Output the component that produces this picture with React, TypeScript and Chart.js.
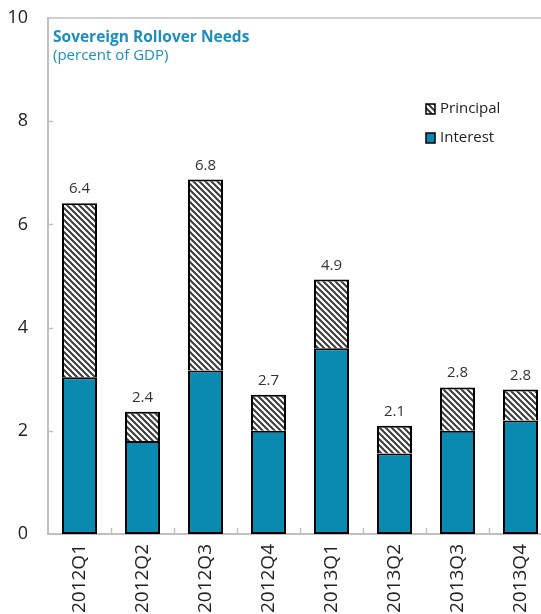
import React, { useEffect, useRef } from "react";
import { Chart, registerables } from "chart.js";

Chart.register(...registerables);

const categories = ["2012Q1", "2012Q2", "2012Q3", "2012Q4", "2013Q1", "2013Q2", "2013Q3", "2013Q4"];
const interest = [3.04, 1.8, 3.17, 2.0, 3.6, 1.56, 2.0, 2.2];
const principal = [3.37, 0.57, 3.7, 0.7, 1.33, 0.54, 0.84, 0.6];
const totalLabels = ["6.4", "2.4", "6.8", "2.7", "4.9", "2.1", "2.8", "2.8"];
const yTicks = [0, 2, 4, 6, 8, 10];

const FONT = "'Open Sans', 'DejaVu Sans', sans-serif";
const TEAL = "#0a8ab0";
const AXIS = "#c0c0c0";

function makeHatch(): CanvasPattern | string {
  const c = document.createElement("canvas");
  c.width = 6;
  c.height = 6;
  const g = c.getContext("2d");
  if (!g) return "#999";
  g.fillStyle = "#ffffff";
  g.fillRect(0, 0, 6, 6);
  g.strokeStyle = "#3a3a3a";
  g.lineWidth = 2;
  for (const o of [-6, 0, 6]) {
    g.beginPath();
    g.moveTo(o - 1, -1);
    g.lineTo(o + 7, 7);
    g.stroke();
  }
  const p = g.createPattern(c, "repeat");
  return p || "#999";
}

export default function App() {
  const ref = useRef<HTMLCanvasElement | null>(null);

  useEffect(() => {
    if (!ref.current) return;
    const hatch = makeHatch();

    const decor = {
      id: "decor",
      afterDraw(chart: any) {
        const ctx = chart.ctx;
        const { left, right, top, bottom } = chart.chartArea;
        const xs = chart.scales.x;
        const ys = chart.scales.y;
        ctx.save();
        // top frame line
        ctx.strokeStyle = AXIS;
        ctx.lineWidth = 1.5;
        ctx.beginPath();
        ctx.moveTo(left, top);
        ctx.lineTo(right, top);
        ctx.stroke();
        // inside y ticks
        ctx.lineWidth = 1.5;
        yTicks.forEach((v) => {
          if (v === 0 || v === 10) return;
          const y = Math.round(ys.getPixelForValue(v)) + 0.5;
          ctx.beginPath();
          ctx.moveTo(left, y);
          ctx.lineTo(left + 5, y);
          ctx.stroke();
        });
        // inside x ticks between categories
        for (let i = 1; i < categories.length; i++) {
          const x = Math.round((xs.getPixelForValue(i - 1) + xs.getPixelForValue(i)) / 2) + 0.5;
          ctx.beginPath();
          ctx.moveTo(x, bottom);
          ctx.lineTo(x, bottom - 6);
          ctx.stroke();
        }
        // total labels
        ctx.fillStyle = "#333333";
        ctx.font = `15px ${FONT}`;
        ctx.textAlign = "center";
        ctx.textBaseline = "alphabetic";
        categories.forEach((_, i) => {
          const total = interest[i] + principal[i];
          const x = xs.getPixelForValue(i);
          const y = ys.getPixelForValue(total);
          ctx.fillText(totalLabels[i], x, y - 10);
        });
        // title
        ctx.textAlign = "left";
        ctx.fillStyle = "#1a8fbf";
        ctx.font = `bold 15.5px ${FONT}`;
        ctx.fillText("Sovereign Rollover Needs", 53, 42);
        ctx.font = `15px ${FONT}`;
        ctx.fillText("(percent of GDP)", 53, 60);
        // legend
        const items = [
          { label: "Principal", fill: chart.data.datasets[1].backgroundColor, y: 104 },
          { label: "Interest", fill: chart.data.datasets[0].backgroundColor, y: 133 },
        ];
        items.forEach((it) => {
          ctx.fillStyle = it.fill;
          ctx.fillRect(426, it.y, 9, 10);
          ctx.strokeStyle = "#000";
          ctx.lineWidth = 1.5;
          ctx.strokeRect(426, it.y, 9, 10);
          ctx.fillStyle = "#222";
          ctx.font = `15px ${FONT}`;
          ctx.textBaseline = "middle";
          ctx.fillText(it.label, 440, it.y + 5);
        });
        ctx.restore();
      },
    };

    const chart = new Chart(ref.current, {
      type: "bar",
      data: {
        labels: categories,
        datasets: [
          {
            label: "Interest",
            data: interest,
            backgroundColor: TEAL,
            borderColor: "#000",
            borderWidth: 2,
            borderSkipped: false,
            barPercentage: 0.556,
            categoryPercentage: 1,
          },
          {
            label: "Principal",
            data: principal,
            backgroundColor: hatch as any,
            borderColor: "#000",
            borderWidth: 2,
            borderSkipped: "bottom",
            barPercentage: 0.556,
            categoryPercentage: 1,
          },
        ],
      },
      options: {
        responsive: false,
        animation: false,
        devicePixelRatio: 1,
        layout: { padding: { top: 18, left: 0, right: 0, bottom: 0 } },
        plugins: {
          legend: { display: false },
          tooltip: { enabled: false },
          title: { display: false },
        },
        scales: {
          x: {
            stacked: true,
            grid: { display: false, drawTicks: false },
            border: { display: true, color: AXIS, width: 2 },
            ticks: {
              minRotation: 90,
              maxRotation: 90,
              padding: 10,
              color: "#222",
              font: { family: FONT, size: 19 },
            },
            afterFit(scale: any) {
              scale.height = 80;
              scale.paddingLeft = 0;
              scale.paddingRight = 0;
            },
          },
          y: {
            stacked: true,
            min: 0,
            max: 10,
            afterBuildTicks(scale: any) {
              scale.ticks = yTicks.map((v) => ({ value: v }));
            },
            grid: { display: false, drawTicks: false },
            border: { display: true, color: AXIS, width: 2 },
            ticks: {
              padding: 20,
              color: "#222",
              font: { family: FONT, size: 18 },
            },
            afterFit(scale: any) {
              scale.width = 48;
              scale.paddingTop = 0;
              scale.paddingBottom = 0;
            },
          },
        },
      },
      plugins: [decor],
    });
    return () => chart.destroy();
  }, []);

  return (
    <div style={{ position: "absolute", left: 0, top: 0, width: 541, height: 614, overflow: "hidden", background: "#fff" }}>
      <canvas ref={ref} width={552} height={614} style={{ display: "block", width: 552, height: 614 }} />
    </div>
  );
}
